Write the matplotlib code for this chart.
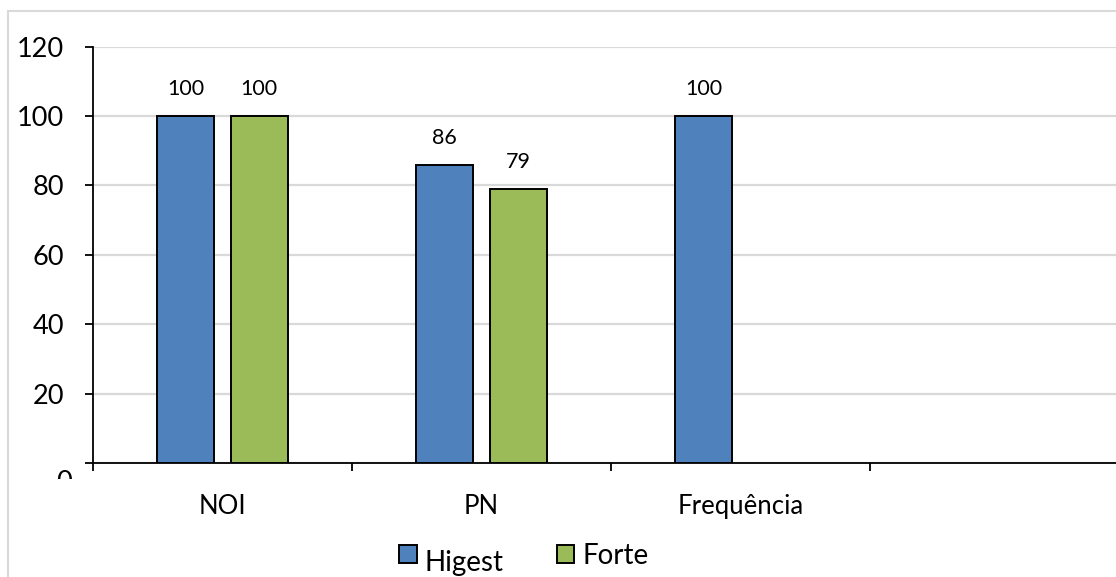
import matplotlib
matplotlib.use("Agg")
import matplotlib.pyplot as plt
import matplotlib.transforms as mtransforms
from matplotlib.patches import Rectangle
import numpy as np

plt.rcParams['font.family'] = ['Lato', 'DejaVu Sans']

# data
categories = ['NOI', 'PN', 'Frequência']
higest = [100, 86, 100]
forte = [100, 79, np.nan]
yticks = [0, 20, 40, 60, 80, 100, 120]
n_slots = 4  # the category axis has one empty slot on the right

blue = '#4F81BD'
green = '#9BBB59'
grid = '#D9D9D9'

W, H = 1116, 577
fig = plt.figure(figsize=(W / 100, H / 100), dpi=100)
# axes run a little past the right edge, like the cropped original
ax = fig.add_axes([93 / W, 114 / H, (1129 - 93) / W, (463 - 46.6) / H])

x = np.arange(len(categories))
bw = 0.22
off = 0.142
b1 = ax.bar(x - off, higest, bw, color=blue, edgecolor='black', linewidth=1.4,
            label='Higest', zorder=3)
b2 = ax.bar(x + off, forte, bw, color=green, edgecolor='black', linewidth=1.4,
            label='Forte', zorder=3)
ax.bar_label(b1, padding=12, fontsize=15.5)
ax.bar_label(b2, padding=12, fontsize=15.5)

ax.set_xlim(-0.5, n_slots - 0.5)
ax.set_ylim(0, 120)
ax.set_yticks(yticks, [str(v) for v in yticks])
ax.yaxis.grid(True, color=grid, linewidth=1.6, zorder=0)
ax.set_axisbelow(True)

# category boundaries get the tick marks, names sit at the centres
ax.set_xticks(np.arange(n_slots + 1) - 0.5)
ax.set_xticklabels([])
ax.set_xticks(x, categories, minor=True)
ax.tick_params(axis='x', which='major', direction='out', length=6, width=1.3)
ax.tick_params(axis='x', which='minor', length=0, pad=22, labelsize=18.5)
ax.tick_params(axis='y', direction='out', length=6, width=1.3, pad=15, labelsize=19.5)

for s in ['top', 'right']:
    ax.spines[s].set_visible(False)
for s in ['left', 'bottom']:
    ax.spines[s].set_linewidth(1.3)

# the "0" label sits low and is cut off in the original
ax.get_yticklabels()[0].set_visible(False)
zero_off = mtransforms.ScaledTranslation(-0.21, -0.20, fig.dpi_scale_trans)
t0 = ax.text(0, 0, '0', fontsize=19.5, ha='right', va='center',
             transform=mtransforms.blended_transform_factory(ax.transAxes, ax.transData) + zero_off)
t0.set_clip_on(True)
t0.set_clip_box(mtransforms.Bbox.from_extents(0, H - 479, 100, H - 470))

leg = fig.legend(handles=[b1, b2], loc='center', bbox_to_anchor=(524 / W, 1 - 556 / H),
                 ncol=2, frameon=False, fontsize=20, handlelength=0.62, handleheight=0.62,
                 handletextpad=0.3, columnspacing=1.9, borderpad=0)
# "Higest" sits a bit lower than "Forte" in the original
leg.get_texts()[0].set_y(-7)

# light outer chart frame, cropped at right and bottom
fig.add_artist(Rectangle((8 / W, -0.1), 1.2, 1 - 11 / H + 0.1, transform=fig.transFigure,
                         fill=False, edgecolor=grid, linewidth=1.5))

fig.savefig('out.png', dpi=100)
